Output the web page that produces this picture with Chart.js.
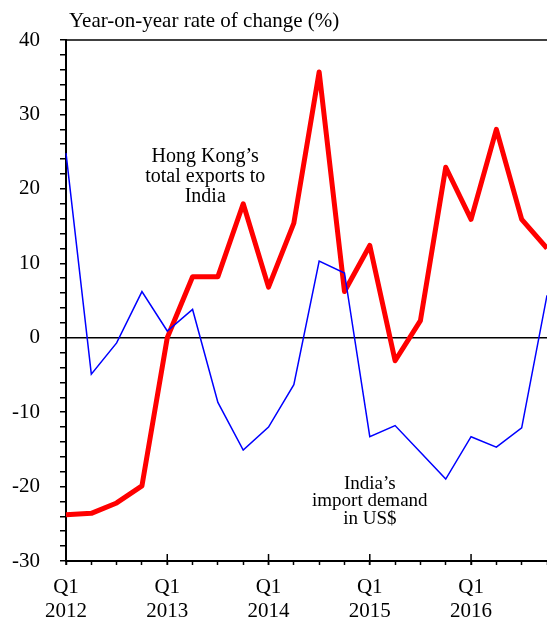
<!DOCTYPE html>
<html>
<head>
<meta charset="utf-8">
<script src="https://cdn.jsdelivr.net/npm/chart.js@4.4.1/dist/chart.umd.min.js"></script>
<style>
  html, body { margin: 0; padding: 0; background: #fff; overflow: hidden; }
  #wrap { width: 547px; height: 623px; position: relative; }
</style>
</head>
<body>
<div id="wrap"><canvas id="myChart"></canvas></div>
<script>
const quarters = [
    'Q1 2012', 'Q2 2012', 'Q3 2012', 'Q4 2012',
    'Q1 2013', 'Q2 2013', 'Q3 2013', 'Q4 2013',
    'Q1 2014', 'Q2 2014', 'Q3 2014', 'Q4 2014',
    'Q1 2015', 'Q2 2015', 'Q3 2015', 'Q4 2015',
    'Q1 2016', 'Q2 2016', 'Q3 2016', 'Q4 2016'
];
const hkExports = [-23.8, -23.6, -22.2, -19.9, 0.0, 8.2, 8.2, 18.0, 6.8, 15.4,
    35.7, 6.2, 12.4, -3.1, 2.3, 22.9, 15.9, 28.0, 15.9, 12.0];
const indiaImports = [24.8, -4.9, -0.7, 6.2, 0.9, 3.8, -8.7, -15.1, -12.0, -6.3,
    10.3, 8.7, -13.3, -11.8, -15.4, -19.0, -13.3, -14.7, -12.1, 5.7];
const yTickLabels = [-30, -20, -10, 0, 10, 20, 30, 40];

const serif = "'Liberation Serif', 'Times New Roman', serif";

// title, top border, quarter ticks and the two series labels
const extras = {
    id: 'extras',
    afterDraw(chart) {
        const ctx = chart.ctx;
        const area = chart.chartArea;
        const x = chart.scales.x;
        const y = chart.scales.y;
        ctx.save();
        ctx.strokeStyle = '#000';
        ctx.lineWidth = 1.5;
        ctx.beginPath();
        ctx.moveTo(area.left, area.top);
        ctx.lineTo(chart.width, area.top);
        ctx.stroke();

        // longer ticks for Q1
        quarters.forEach((q, i) => {
            if (q.startsWith('Q1')) {
                const px = x.getPixelForValue(i);
                ctx.beginPath();
                ctx.moveTo(px, area.bottom - 7);
                ctx.lineTo(px, area.bottom + 4);
                ctx.stroke();
            }
        });

        ctx.fillStyle = '#000';
        ctx.textBaseline = 'alphabetic';
        ctx.textAlign = 'left';
        ctx.font = '21px ' + serif;
        ctx.fillText('Year-on-year rate of change (%)', area.left + 3, 27);

        ctx.textAlign = 'center';
        ctx.textBaseline = 'middle';
        ctx.font = '20px ' + serif;
        const hk = ['Hong Kong\u2019s', 'total exports to', 'India'];
        hk.forEach((t, k) => {
            ctx.fillText(t, x.getPixelForValue(5.5), y.getPixelForValue(24.3) + k * 20);
        });
        ctx.font = '19px ' + serif;
        const ind = ['India\u2019s', 'import demand', 'in US$'];
        ind.forEach((t, k) => {
            ctx.fillText(t, x.getPixelForValue(12), y.getPixelForValue(-19.6) + k * 17.5);
        });
        ctx.restore();
    }
};

new Chart(document.getElementById('myChart'), {
    type: 'line',
    data: {
        labels: quarters,
        datasets: [
            {
                label: "India's import demand in US$",
                data: indiaImports,
                borderColor: '#0000ff',
                borderWidth: 1.5,
                pointRadius: 0,
                tension: 0
            },
            {
                label: "Hong Kong's total exports to India",
                data: hkExports,
                borderColor: '#ff0000',
                borderWidth: 5,
                pointRadius: 0,
                tension: 0,
                borderJoinStyle: 'round'
            }
        ]
    },
    options: {
        responsive: true,
        maintainAspectRatio: false,
        animation: false,
        layout: { padding: { top: 40, right: 0, left: 0, bottom: 0 } },
        plugins: {
            legend: { display: false },
            tooltip: { enabled: false }
        },
        scales: {
            x: {
                type: 'category',
                offset: false,
                afterFit(scale) {
                    scale.height = 62;
                    scale.paddingLeft = 0;
                    scale.paddingRight = 0;
                },
                border: { display: true, color: '#000', width: 2 },
                grid: {
                    display: true,
                    drawOnChartArea: false,
                    drawTicks: true,
                    tickLength: 4,
                    tickColor: '#000',
                    tickWidth: 1.5
                },
                ticks: {
                    autoSkip: false,
                    maxRotation: 0,
                    padding: 10,
                    color: '#000',
                    font: { family: serif, size: 21, lineHeight: 1.15 },
                    callback(val, i) {
                        const q = quarters[i].split(' ');
                        return q[0] === 'Q1' ? [q[0], q[1]] : '';
                    }
                }
            },
            y: {
                min: -30,
                max: 40,
                afterFit(scale) { scale.width = 66; },
                border: { display: true, color: '#000', width: 2 },
                grid: {
                    drawOnChartArea: true,
                    drawTicks: true,
                    tickLength: 6,
                    tickColor: '#000',
                    tickWidth: 1.5,
                    color: (c) => (c.tick && c.tick.value === 0 ? '#000' : 'rgba(0,0,0,0)'),
                    lineWidth: 1.5
                },
                ticks: {
                    stepSize: 2,
                    autoSkip: false,
                    padding: 20,
                    color: '#000',
                    font: { family: serif, size: 21 },
                    callback: (v) => (yTickLabels.includes(v) ? String(v) : '')
                }
            }
        }
    },
    plugins: [extras]
});
</script>
</body>
</html>
